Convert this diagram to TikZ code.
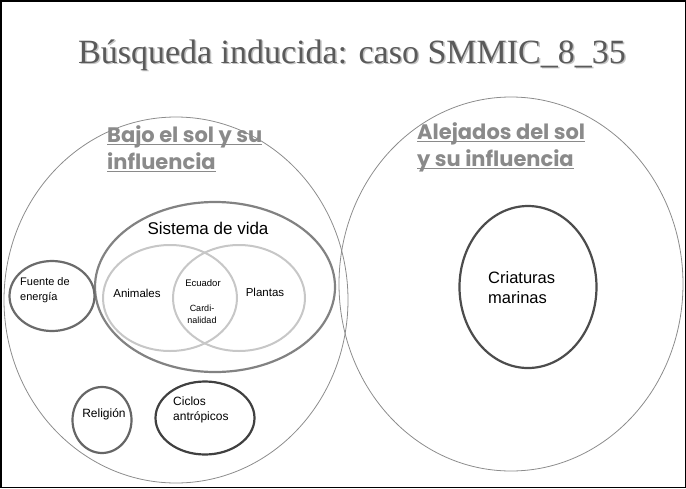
\documentclass[tikz,border=0pt]{standalone}
\usepackage{fontspec}
\setmainfont{Liberation Serif}
\setsansfont{Liberation Sans}
\newfontfamily\headfont{Poppins}
\usepackage{xcolor}
\usetikzlibrary{shapes.geometric}

\definecolor{titlegray}{HTML}{5A5A5A}
\definecolor{shadegray}{HTML}{C4C4C4}
\definecolor{headgray}{HTML}{8A8A8A}
\definecolor{zonegray}{HTML}{8C8C8C}
\newcommand{\headline}[1]{\leavevmode\setbox0\hbox{#1}\rlap{\rule[-3pt]{\wd0}{1.4pt}}\box0}

\begin{document}
\begin{tikzpicture}[
  x=1pt, y=-1pt,
  zone/.style={ellipse, draw=zonegray, line width=0.8pt, inner sep=0},
  ring/.style={ellipse, line width=2.2pt, inner sep=0},
  lbl/.style={font=\sffamily, inner sep=0, align=left},
  head/.style={font=\headfont\bfseries\fontsize{21}{27}\selectfont, text=headgray, inner sep=0, align=left}
]
  \useasboundingbox (0,0) rectangle (686,488);
  \node[draw, line width=1.5pt, minimum width=684.5pt, minimum height=486.5pt, inner sep=0] (frame) at (343,244) {};

  % title with its shadow
  \node[font=\fontsize{34}{38}\selectfont, text=shadegray] (titleshade) at (353.5,56.5) {Búsqueda inducida: caso SMMIC\_8\_35};
  \node[font=\fontsize{34}{38}\selectfont, text=titlegray] (title) at (352,55) {Búsqueda inducida: caso SMMIC\_8\_35};

  % the two big zones
  \node[zone, minimum width=344pt, minimum height=366pt] (bajo) at (176,300) {};
  \node[zone, minimum width=344pt, minimum height=374pt] (lejos) at (511,284) {};
  \node[head, anchor=north west] (bajotxt) at (107,125) {\headline{Bajo el sol y su}\\\headline{influencia}};
  \node[head, anchor=north west] (lejostxt) at (417,122) {\headline{Alejados del sol}\\\headline{y su influencia}};

  % sistema de vida
  \node[ring, draw=gray!60!black!70, minimum width=240pt, minimum height=170pt] (sistema) at (215,287) {};
  \node[lbl, font=\sffamily\fontsize{17}{20}\selectfont] (sistematxt) at (208,228) {Sistema de vida};
  \node[ring, draw=black!22, line width=2pt, minimum width=134pt, minimum height=106pt] (animales) at (170,298) {};
  \node[ring, draw=black!22, line width=2pt, minimum width=132pt, minimum height=106pt] (plantas) at (239,298) {};
  \node[lbl, font=\sffamily\fontsize{11.5}{14}\selectfont] (animalestxt) at (137,293) {Animales};
  \node[lbl, font=\sffamily\fontsize{11.5}{14}\selectfont] (plantastxt) at (265,292) {Plantas};
  \node[lbl, font=\sffamily\fontsize{9.5}{12}\selectfont] (ecuador) at (203,283) {Ecuador};
  \node[lbl, font=\sffamily\fontsize{9}{12}\selectfont, align=center] (cardinal) at (202,314) {Cardi-\\nalidad};

  % small circles
  \node[ring, draw=black!58, minimum width=85pt, minimum height=70pt] (fuente) at (52,296) {};
  \node[lbl, font=\sffamily\fontsize{11}{15}\selectfont, anchor=west] (fuentetxt) at (20,290) {Fuente de\\energía};
  \node[ring, draw=black!60, minimum width=59pt, minimum height=66pt] (religion) at (102,420) {};
  \node[lbl, font=\sffamily\fontsize{12}{14}\selectfont] (religiontxt) at (104,414) {Religión};
  \node[ring, draw=black!75, minimum width=99pt, minimum height=73pt] (ciclos) at (205,418) {};
  \node[lbl, font=\sffamily\fontsize{12}{14.5}\selectfont, anchor=west] (ciclostxt) at (173,410) {Ciclos\\antrópicos};
  \node[ring, draw=black!70, minimum width=137pt, minimum height=162pt] (criaturas) at (528,287) {};
  \node[lbl, font=\sffamily\fontsize{16.5}{20}\selectfont, anchor=west] (criaturastxt) at (488,288) {Criaturas\\marinas};
\end{tikzpicture}
\end{document}
